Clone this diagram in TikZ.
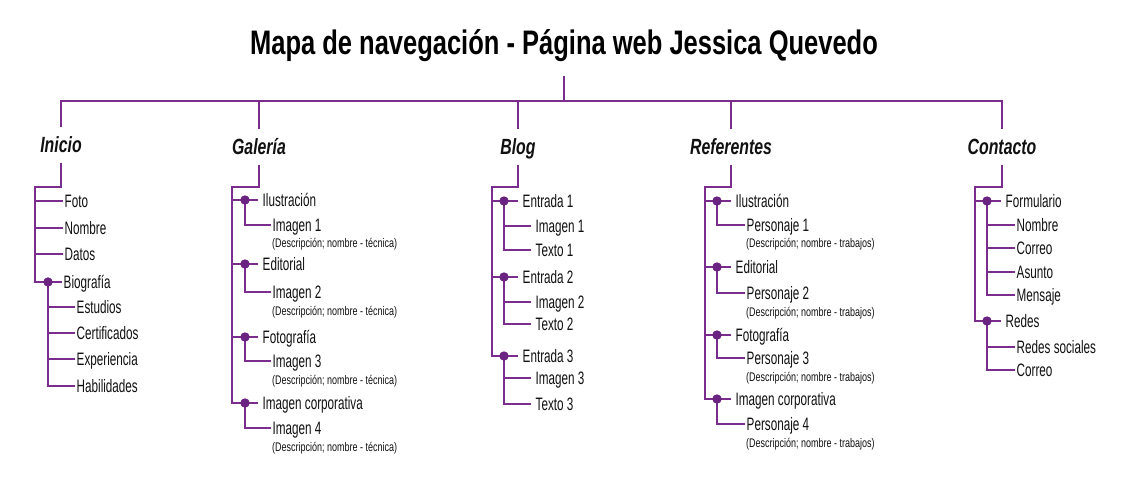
\documentclass[tikz,border=0pt]{standalone}
\usepackage{fontspec}
\setmainfont{Liberation Sans}[FakeStretch=0.65]
\newfontfamily\descf{Liberation Sans}[FakeStretch=0.72]
\newfontfamily\titlef{Liberation Sans}[FakeStretch=0.75]
\newfontfamily\headf{Liberation Sans}[FakeStretch=0.72]
\definecolor{linec}{HTML}{7A2C8F}
\definecolor{dotc}{HTML}{6A2380}
\definecolor{txtc}{HTML}{111111}
\tikzset{
  conn/.style={draw=linec, line width=2pt},
  itm/.style={font=\fontsize{18}{18}\selectfont, text=txtc, anchor=west, inner ysep=0pt, inner xsep=1.5pt, text height=13pt, text depth=0pt},
  itmg/.style={itm, inner xsep=4.5pt},
  desc/.style={font=\descf\fontsize{12.5}{12.5}\selectfont, text=txtc, anchor=west, inner sep=0pt, text height=9pt, text depth=0pt},
  head/.style={font=\headf\fontsize{22}{22}\selectfont\bfseries\itshape, text=txtc, inner xsep=0pt, inner ysep=10pt, text height=16pt, text depth=0pt},
  titlest/.style={font=\titlef\fontsize{34}{34}\selectfont\bfseries, text=black, inner xsep=0pt, inner ysep=21.5pt, text height=24pt, text depth=0pt},
  dotf/.style={fill=dotc}
}
\begin{document}
\begin{tikzpicture}[x=1pt,y=-1pt]
\fill[white] (0,0) rectangle (1130,500);
\useasboundingbox (0,0) rectangle (1130,500);

% title and headings
\node[titlest] (title) at (564,42.5) {Mapa de navegación - Página web Jessica Quevedo};
\node[head] (hI) at (61,145) {Inicio};
\node[head] (hG) at (259,147) {Galería};
\node[head] (hB) at (518,147) {Blog};
\node[head] (hR) at (731,147) {Referentes};
\node[head] (hC) at (1002,147) {Contacto};
\coordinate (bI) at (61,101);
\coordinate (bG) at (259,101);
\coordinate (bB) at (518,101);
\coordinate (bR) at (731,101);
\coordinate (bC) at (1002,101);
\draw[conn] (title.south) -- (title.south |- bI);
\draw[conn] (hI.north) |- (bC) -- (hC.north);
\draw[conn] (bG) -- (hG.north);
\draw[conn] (bB) -- (hB.north);
\draw[conn] (bR) -- (hR.north);

% ---------- Inicio ----------
\coordinate (jI) at (35,187);
\coordinate (dBio) at (48,282);
\node[itm] (iFoto) at (63,201) {Foto};
\node[itm] (iNom) at (63,228) {Nombre};
\node[itm] (iDat) at (63,254) {Datos};
\node[itm] (iBio) at (62,282) {Biografía};
\node[itm] (iEst) at (75,307) {Estudios};
\node[itm] (iCer) at (75,333) {Certificados};
\node[itm] (iExp) at (75,359) {Experiencia};
\node[itm] (iHab) at (75,386) {Habilidades};
\draw[conn] (hI.south) |- (jI) -- (jI |- iBio) -- (iBio.west);
\draw[conn] (jI |- iFoto) -- (iFoto.west);
\draw[conn] (jI |- iNom) -- (iNom.west);
\draw[conn] (jI |- iDat) -- (iDat.west);
\draw[conn] (dBio) |- (iHab.west);
\draw[conn] (dBio |- iEst) -- (iEst.west);
\draw[conn] (dBio |- iCer) -- (iCer.west);
\draw[conn] (dBio |- iExp) -- (iExp.west);
\fill[dotf] (dBio) circle (4.7pt);

% ---------- Galería ----------
\coordinate (jG) at (232,187);
\coordinate (gD1) at (245,200);
\coordinate (gD2) at (245,264);
\coordinate (gD3) at (245,337);
\coordinate (gD4) at (245,403);
\node[itmg] (gM1) at (258,200) {Ilustración};
\node[itmg] (gM2) at (258,264) {Editorial};
\node[itmg] (gM3) at (258,337) {Fotografía};
\node[itmg] (gM4) at (258,403) {Imagen corporativa};
\node[itm] (gS1) at (271,225) {Imagen 1};
\node[itm] (gS2) at (271,292) {Imagen 2};
\node[itm] (gS3) at (271,361) {Imagen 3};
\node[itm] (gS4) at (271,428) {Imagen 4};
\node[desc] (gX1) at (272,243) {(Descripción; nombre - técnica)};
\node[desc] (gX2) at (272,311) {(Descripción; nombre - técnica)};
\node[desc] (gX3) at (272,380) {(Descripción; nombre - técnica)};
\node[desc] (gX4) at (272,447) {(Descripción; nombre - técnica)};
\draw[conn] (hG.south) |- (jG) -- (jG |- gM4) -- (gM4.west);
\draw[conn] (jG |- gM1) -- (gM1.west);
\draw[conn] (jG |- gM2) -- (gM2.west);
\draw[conn] (jG |- gM3) -- (gM3.west);
\draw[conn] (gD1) |- (gS1.west);
\draw[conn] (gD2) |- (gS2.west);
\draw[conn] (gD3) |- (gS3.west);
\draw[conn] (gD4) |- (gS4.west);
\foreach \d in {gD1,gD2,gD3,gD4} \fill[dotf] (\d) circle (4.7pt);

% ---------- Blog ----------
\coordinate (jB) at (492,187);
\coordinate (bD1) at (504,201);
\coordinate (bD2) at (504,277);
\coordinate (bD3) at (504,356);
\node[itmg] (bM1) at (518,201) {Entrada 1};
\node[itmg] (bM2) at (518,277) {Entrada 2};
\node[itmg] (bM3) at (518,356) {Entrada 3};
\node[itmg] (bI1) at (531,226) {Imagen 1};
\node[itmg] (bT1) at (531,250) {Texto 1};
\node[itmg] (bI2) at (531,302) {Imagen 2};
\node[itmg] (bT2) at (531,324) {Texto 2};
\node[itmg] (bI3) at (531,378) {Imagen 3};
\node[itmg] (bT3) at (531,404) {Texto 3};
\draw[conn] (hB.south) |- (jB) -- (jB |- bM3) -- (bM3.west);
\draw[conn] (jB |- bM1) -- (bM1.west);
\draw[conn] (jB |- bM2) -- (bM2.west);
\draw[conn] (bD1) |- (bT1.west);
\draw[conn] (bD1 |- bI1) -- (bI1.west);
\draw[conn] (bD2) |- (bT2.west);
\draw[conn] (bD2 |- bI2) -- (bI2.west);
\draw[conn] (bD3) |- (bT3.west);
\draw[conn] (bD3 |- bI3) -- (bI3.west);
\foreach \d in {bD1,bD2,bD3} \fill[dotf] (\d) circle (4.7pt);

% ---------- Referentes ----------
\coordinate (jR) at (705,187);
\coordinate (rD1) at (717,201);
\coordinate (rD2) at (717,267);
\coordinate (rD3) at (717,335);
\coordinate (rD4) at (717,399);
\node[itmg] (rM1) at (731,201) {Ilustración};
\node[itmg] (rM2) at (731,267) {Editorial};
\node[itmg] (rM3) at (731,335) {Fotografía};
\node[itmg] (rM4) at (731,399) {Imagen corporativa};
\node[itm] (rS1) at (745,225) {Personaje 1};
\node[itm] (rS2) at (745,293) {Personaje 2};
\node[itm] (rS3) at (745,358) {Personaje 3};
\node[itm] (rS4) at (745,424) {Personaje 4};
\node[desc] (rX1) at (746,243) {(Descripción; nombre - trabajos)};
\node[desc] (rX2) at (746,312) {(Descripción; nombre - trabajos)};
\node[desc] (rX3) at (746,377) {(Descripción; nombre - trabajos)};
\node[desc] (rX4) at (746,443) {(Descripción; nombre - trabajos)};
\draw[conn] (hR.south) |- (jR) -- (jR |- rM4) -- (rM4.west);
\draw[conn] (jR |- rM1) -- (rM1.west);
\draw[conn] (jR |- rM2) -- (rM2.west);
\draw[conn] (jR |- rM3) -- (rM3.west);
\draw[conn] (rD1) |- (rS1.west);
\draw[conn] (rD2) |- (rS2.west);
\draw[conn] (rD3) |- (rS3.west);
\draw[conn] (rD4) |- (rS4.west);
\foreach \d in {rD1,rD2,rD3,rD4} \fill[dotf] (\d) circle (4.7pt);

% ---------- Contacto ----------
\coordinate (jC) at (975,187);
\coordinate (cD1) at (987,201);
\coordinate (cD2) at (987,321);
\node[itmg] (cM1) at (1001,201) {Formulario};
\node[itmg] (cM2) at (1001,321) {Redes};
\node[itm] (cN) at (1015,225) {Nombre};
\node[itm] (cCo) at (1015,248) {Correo};
\node[itm] (cA) at (1015,272) {Asunto};
\node[itm] (cMe) at (1015,295) {Mensaje};
\node[itm] (cRs) at (1015,347) {Redes sociales};
\node[itm] (cC2) at (1015,370) {Correo};
\draw[conn] (hC.south) |- (jC) -- (jC |- cM2) -- (cM2.west);
\draw[conn] (jC |- cM1) -- (cM1.west);
\draw[conn] (cD1) |- (cMe.west);
\draw[conn] (cD1 |- cN) -- (cN.west);
\draw[conn] (cD1 |- cCo) -- (cCo.west);
\draw[conn] (cD1 |- cA) -- (cA.west);
\draw[conn] (cD2) |- (cC2.west);
\draw[conn] (cD2 |- cRs) -- (cRs.west);
\foreach \d in {cD1,cD2} \fill[dotf] (\d) circle (4.7pt);
\end{tikzpicture}
\end{document}
